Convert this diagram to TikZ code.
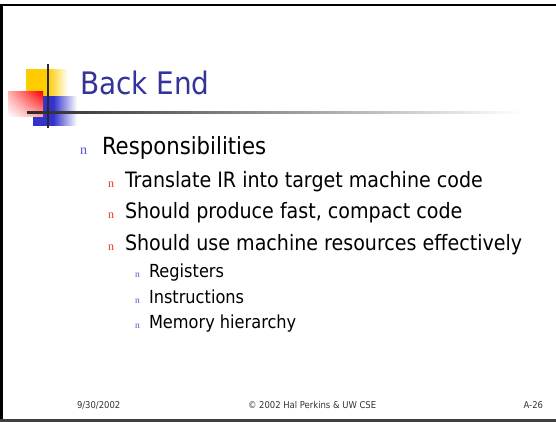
\documentclass[tikz,border=0pt]{standalone}
\usepackage{fontspec}
\setmainfont{DejaVu Sans Condensed}
\newfontfamily\bulletfont{Liberation Serif}
\usetikzlibrary{shadings}
\definecolor{titleblue}{HTML}{333399}
\definecolor{logoyellow}{HTML}{FFCC00}
\definecolor{logoblue}{HTML}{3333CC}
\definecolor{logored}{HTML}{FF0000}
\definecolor{rulegray}{HTML}{2A2A2A}
\definecolor{bulletblue}{HTML}{5555CC}
\definecolor{bulletred}{HTML}{F03030}
\definecolor{footgray}{HTML}{333333}
% shadings: solid colour over the left part, then a fade to white
\pgfdeclarehorizontalshading{yellowfade}{100bp}{color(0bp)=(logoyellow); color(25bp)=(logoyellow); color(51bp)=(logoyellow); color(75bp)=(white); color(100bp)=(white)}
\pgfdeclarehorizontalshading{bluefade}{100bp}{color(0bp)=(logoblue); color(25bp)=(logoblue); color(48bp)=(logoblue); color(75bp)=(white); color(100bp)=(white)}
\tikzset{
  txt/.style={anchor=base west, inner sep=0pt, outer sep=0pt},
  lvlone/.style={txt, font=\fontsize{23.6}{26}\selectfont},
  lvltwo/.style={txt, font=\fontsize{21.2}{23}\selectfont},
  lvlthree/.style={txt, font=\fontsize{18}{21}\selectfont},
  bulone/.style={txt, text=bulletblue, font=\bulletfont\fontsize{14}{16}\selectfont},
  bultwo/.style={txt, text=bulletred, font=\bulletfont\fontsize{12}{14}\selectfont},
  bulthree/.style={txt, text=bulletblue, font=\bulletfont\fontsize{9.5}{11}\selectfont},
  foot/.style={inner sep=0pt, outer sep=0pt, text=footgray, font=\fontsize{9.4}{11}\selectfont},
}
\begin{document}
\begin{tikzpicture}[x=1pt,y=-1pt]
\useasboundingbox (0,0) rectangle (556,422);
\fill[white] (0,0) rectangle (556,422);
% slide frame: top, left, bottom
\draw[black, line width=2.5pt] (1.5,420.5) -- (1.5,5) -- (556,5);
\draw[black!75, line width=2.5pt] (0,420.5) -- (556,420.5);

% logo blocks
\shade[shading=yellowfade] (26,70) rectangle (68,98);
\shade[shading=bluefade] (33,97) rectangle (77,126);
\shade[upper right=logored, upper left=red!30, lower right=red!35, lower left=white] (8,92) rectangle (43,117);
% logo cross rules
\shade[left color=rulegray, right color=white] (27,112) rectangle (523,114);
\fill[rulegray] (47,64) rectangle (49,128);

% title
\node[txt, text=titleblue, font=\fontsize{31}{34}\selectfont] (title) at (80,95) {Back End};

% level 1
\node[bulone] (b1) at (80,155) {n};
\node[lvlone] (t1) at (102,155) {Responsibilities};
% level 2
\node[bultwo] (b2) at (108,187) {n};
\node[lvltwo] (t2) at (125,187) {Translate IR into target machine code};
\node[bultwo] (b3) at (108,218) {n};
\node[lvltwo] (t3) at (125,218) {Should produce fast, compact code};
\node[bultwo] (b4) at (108,250) {n};
\node[lvltwo] (t4) at (125,250) {Should use machine resources effectively};
% level 3
\node[bulthree] (b5) at (135,277) {n};
\node[lvlthree] (t5) at (149,277) {Registers};
\node[bulthree] (b6) at (135,303) {n};
\node[lvlthree] (t6) at (149,303) {Instructions};
\node[bulthree] (b7) at (135,328) {n};
\node[lvlthree] (t7) at (149,328) {Memory hierarchy};

% footer
\node[foot, anchor=base west] (date) at (77,408) {9/30/2002};
\node[foot, anchor=base west] (copy) at (248,408) {© 2002 Hal Perkins \& UW CSE};
\node[foot, anchor=base east] (page) at (543,408) {A-26};
\end{tikzpicture}
\end{document}
